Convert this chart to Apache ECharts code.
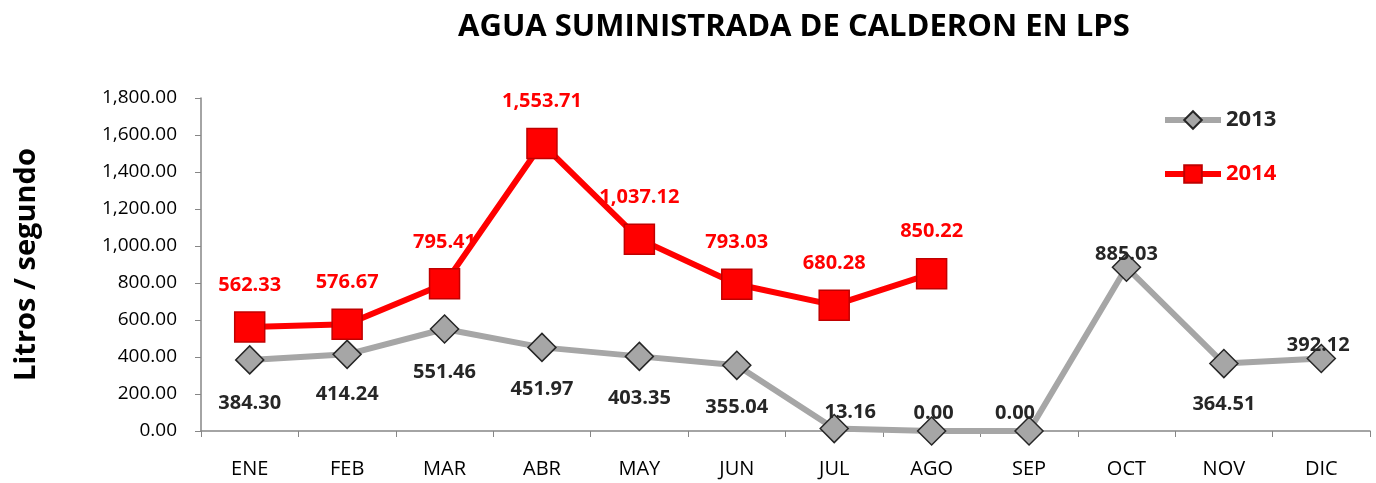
<!DOCTYPE html>
<html>
<head>
<meta charset="utf-8">
<script src="https://cdn.jsdelivr.net/npm/echarts@6/dist/echarts.min.js"></script>
<style>
  html, body { margin: 0; padding: 0; background: #fff; }
  #chart { width: 1376px; height: 483px; }
</style>
</head>
<body>
<div id="chart"></div>
<script>
// Datos
const months = ['ENE', 'FEB', 'MAR', 'ABR', 'MAY', 'JUN', 'JUL', 'AGO', 'SEP', 'OCT', 'NOV', 'DIC'];
const agua2013 = [384.30, 414.24, 551.46, 451.97, 403.35, 355.04, 13.16, 0.00, 0.00, 885.03, 364.51, 392.12];
const agua2014 = [562.33, 576.67, 795.41, 1553.71, 1037.12, 793.03, 680.28, 850.22];

// desplazamiento de etiquetas 2013 (px)
const offsets2013 = [[0, 43], [0, 40], [0, 43], [0, 42], [0, 42], [0, 42], [16, -16], [2, -18], [-14, -18], [0, -13], [0, 41], [-3, -13]];

const fmt = v => v.toLocaleString('en-US', { minimumFractionDigits: 2, maximumFractionDigits: 2 });
const FONT = '"Open Sans", "Liberation Sans", sans-serif';

const chart = echarts.init(document.getElementById('chart'));
chart.setOption({
  backgroundColor: '#fff',
  animation: false,
  title: {
    text: 'AGUA SUMINISTRADA DE CALDERON EN LPS',
    left: 789, top: 7, textAlign: 'center',
    textStyle: { fontFamily: FONT, fontSize: 31, fontWeight: 'bold', color: '#000' }
  },
  legend: {
    orient: 'vertical', left: 1157, top: 104, itemGap: 32,
    itemWidth: 56, itemHeight: 22,
    textStyle: { fontFamily: FONT, fontSize: 22, fontWeight: 'bold' },
    data: [
      { name: '2013', textStyle: { color: '#262626' }, lineStyle: { width: 6, color: '#a6a6a6' } },
      { name: '2014', textStyle: { color: '#ff0000' }, lineStyle: { width: 6, color: '#ff0000' } }
    ]
  },
  grid: { left: 201, right: 6, top: 98, bottom: 52 },
  xAxis: {
    type: 'category', data: months, boundaryGap: true,
    axisLine: { lineStyle: { color: '#868686', width: 1.5 } },
    axisTick: { show: true, length: 6, alignWithLabel: false, lineStyle: { color: '#868686' } },
    axisLabel: { margin: 28, fontFamily: FONT, fontSize: 20, color: '#000' }
  },
  yAxis: {
    type: 'value', min: 0, max: 1800, interval: 200,
    name: 'Litros / segundo', nameLocation: 'middle', nameGap: 160, nameRotate: 90,
    nameTextStyle: { fontFamily: FONT, fontSize: 29, fontWeight: 'bold', color: '#000' },
    axisLine: { show: true, lineStyle: { color: '#868686', width: 1.5 } },
    axisTick: { show: true, length: 6, lineStyle: { color: '#868686' } },
    splitLine: { show: false },
    axisLabel: { margin: 24, fontFamily: FONT, fontSize: 19, color: '#000', formatter: v => fmt(v) }
  },
  series: [
    {
      name: '2013', type: 'line', z: 2,
      symbol: 'diamond', symbolSize: 28,
      lineStyle: { color: '#a6a6a6', width: 6 },
      itemStyle: { color: '#a6a6a6', borderColor: '#262626', borderWidth: 1.5 },
      data: agua2013.map((v, i) => ({
        value: v,
        label: { offset: offsets2013[i] }
      })),
      label: {
        show: true, position: 'inside',
        fontFamily: FONT, fontSize: 20, fontWeight: 'bold', color: '#262626',
        formatter: p => fmt(p.value)
      }
    },
    {
      name: '2014', type: 'line', z: 3,
      symbol: 'rect', symbolSize: 30,
      lineStyle: { color: '#ff0000', width: 6 },
      itemStyle: { color: '#ff0000', borderColor: '#c00000', borderWidth: 1.5 },
      data: agua2014,
      label: {
        show: true, position: 'inside', offset: [0, -42],
        fontFamily: FONT, fontSize: 20, fontWeight: 'bold', color: '#ff0000',
        formatter: p => fmt(p.value)
      }
    }
  ]
});
</script>
</body>
</html>
